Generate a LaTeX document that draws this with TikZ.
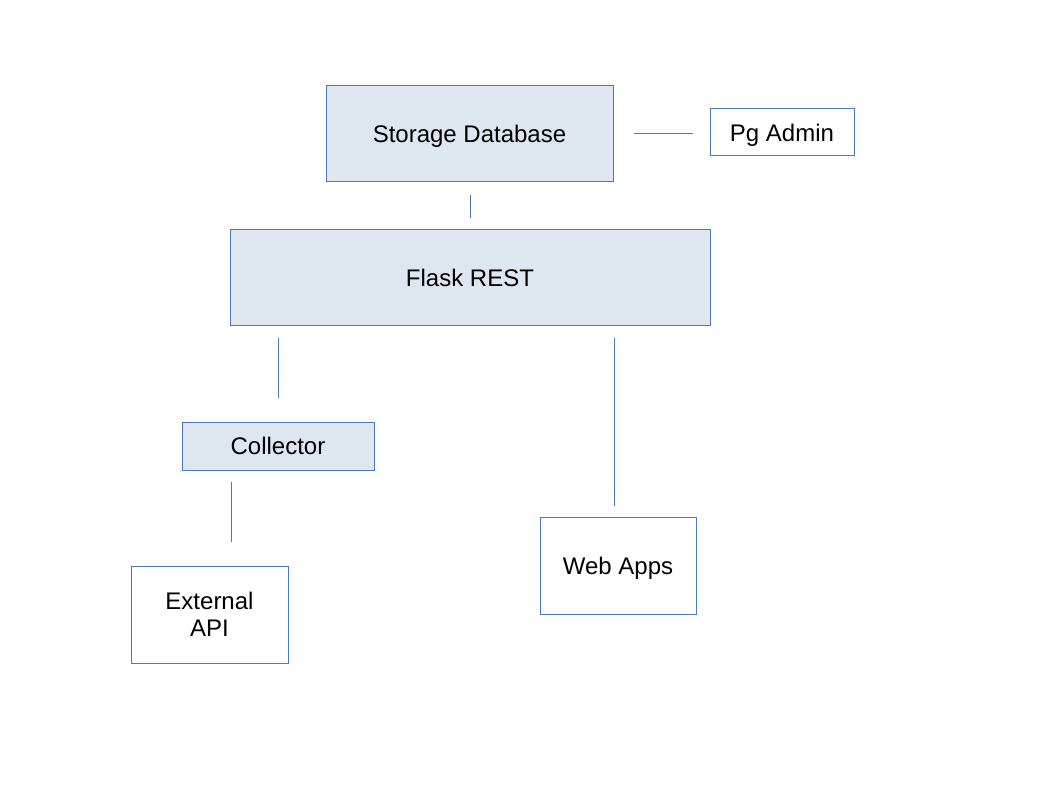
\documentclass[tikz,border=0pt]{standalone}
\usepackage{fontspec}
\setmainfont{Liberation Sans}
\definecolor{boxline}{RGB}{74,122,190}
\definecolor{boxfill}{RGB}{222,230,239}
\begin{document}
\begin{tikzpicture}[x=1pt,y=-1pt,
  box/.style={draw=boxline,line width=1pt,inner sep=0pt,font=\fontsize{24}{27}\selectfont,align=center,text height=17.2pt,text depth=0pt},
  filled/.style={box,fill=boxfill},
  plain/.style={box,fill=white},
  link/.style={draw=boxline,line width=1pt}]
\path[use as bounding box,fill=white] (0,0) rectangle (1058,794);
\node[filled,minimum width=287pt,minimum height=96pt] (db) at (469.5,134) {Storage Database};
\node[plain,minimum width=144pt,minimum height=47pt] (pg) at (782,132.5) {Pg Admin};
\node[filled,minimum width=480pt,minimum height=96pt] (flask) at (470,278) {Flask REST};
\node[filled,minimum width=192pt,minimum height=48pt] (coll) at (278,446) {Collector};
\node[plain,minimum width=157pt,minimum height=97pt,text height=44.2pt] (ext) at (209.5,614.5) {External\\API};
\node[plain,minimum width=156pt,minimum height=97pt] (web) at (618,565.5) {Web Apps};
\coordinate (dbA) at (470,195); \coordinate (flaskA) at (470,218);
\coordinate (dbB) at (634,134); \coordinate (pgA) at (693,134);
\coordinate (flaskB) at (278,338); \coordinate (collA) at (278,398);
\coordinate (flaskC) at (614,338); \coordinate (webA) at (614,506);
\coordinate (collB) at (231,482); \coordinate (extA) at (231,542);
\draw[link] (dbA) -- (flaskA);
\draw[link] (dbB) -- (pgA);
\draw[link] (flaskB) -- (collA);
\draw[link] (flaskC) -- (webA);
\draw[link] (collB) -- (extA);
\end{tikzpicture}
\end{document}
